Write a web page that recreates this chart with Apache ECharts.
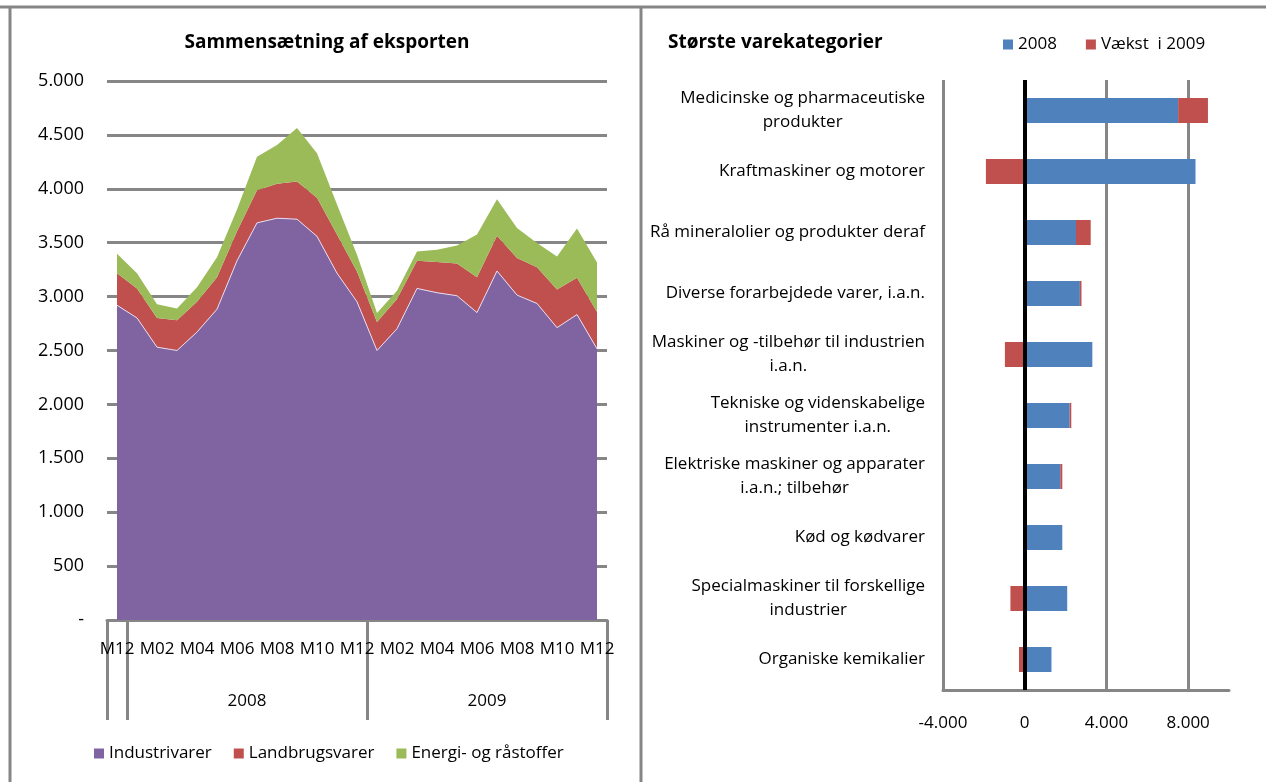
<!DOCTYPE html>
<html>
<head>
<meta charset="utf-8">
<script src="https://cdn.jsdelivr.net/npm/echarts@6/dist/echarts.min.js"></script>
<style>
html,body{margin:0;padding:0;background:#fff;}
#c{width:1266px;height:782px;}
</style>
</head>
<body>
<div id="c"></div>
<script>
// ---- Left chart data ----
var months = ['M12','M01','M02','M03','M04','M05','M06','M07','M08','M09','M10','M11','M12',
              'M01','M02','M03','M04','M05','M06','M07','M08','M09','M10','M11','M12'];
var yearGroups = ['', '2008', '2009'];
var yearGroupSizes = [1, 12, 12];
var industrivarer = [2920,2802,2531,2500,2671,2883,3332,3684,3727,3718,3559,3217,2952,
                     2500,2702,3076,3036,3008,2852,3238,3014,2936,2712,2833,2516];
var landbrugsvarer = [296,274,271,280,281,296,274,302,321,349,358,358,280,
                      265,275,256,286,299,327,327,343,337,355,343,342];
var energi = [181,140,128,109,134,187,202,312,359,498,412,280,156,
              84,78,87,113,168,396,337,280,224,305,455,458];

// ---- Right chart data ----
var kategorier = [
  'Medicinske og pharmaceutiske\nprodukter',
  'Kraftmaskiner og motorer',
  'Rå mineralolier og produkter deraf',
  'Diverse forarbejdede varer, i.a.n.',
  'Maskiner og -tilbehør til industrien\ni.a.n.',
  'Tekniske og videnskabelige\ninstrumenter i.a.n.',
  'Elektriske maskiner og apparater\ni.a.n.; tilbehør',
  'Kød og kødvarer',
  'Specialmaskiner til forskellige\nindustrier',
  'Organiske kemikalier'
];
var v2008 = [7510, 8360, 2510, 2700, 3310, 2200, 1740, 1840, 2080, 1310];
var vaekst2009 = [1460, -1900, 720, 80, -970, 80, 100, 0, -700, -280];

// ---- helpers ----
function fmt(v){
  if (v === 0) return '0';
  var s = Math.abs(v).toString().replace(/\B(?=(\d{3})+(?!\d))/g, '.');
  return (v < 0 ? '-' : '') + s;
}
var bounds = [0], centers = [];
(function(){
  var acc = 0;
  for (var i = 0; i < yearGroupSizes.length; i++) {
    var start = acc; acc += yearGroupSizes[i];
    bounds.push(acc);
    if (yearGroups[i]) centers.push({pos: (start + acc) / 2, label: yearGroups[i]});
  }
})();
var centerPos = centers.map(function(c){return c.pos;});

var FONT = '"Open Sans"';
var GRAY = '#868686';

var chart = echarts.init(document.getElementById('c'), null, {renderer:'canvas'});
var option = {
  animation: false,
  textStyle: {fontFamily: FONT, color: '#000'},
  graphic: [
    {type:'line', shape:{x1:0,y1:7,x2:1266,y2:7}, style:{stroke:GRAY,lineWidth:3}},
    {type:'line', shape:{x1:10,y1:7,x2:10,y2:782}, style:{stroke:GRAY,lineWidth:3}},
    {type:'line', shape:{x1:641,y1:7,x2:641,y2:782}, style:{stroke:GRAY,lineWidth:3}}
  ],
  title: [
    {text:'Sammensætning af eksporten', left:322, top:28, textAlign:'center',
     textStyle:{fontFamily:FONT, fontSize:19, fontWeight:'bold', color:'#000'}},
    {text:'Største varekategorier', left:663, top:28,
     textStyle:{fontFamily:FONT, fontSize:19, fontWeight:'bold', color:'#000'}}
  ],
  legend: [
    {data:['Industrivarer','Landbrugsvarer','Energi- og råstoffer'],
     left:89, top:740, icon:'rect', itemWidth:10, itemHeight:10, itemGap:22,
     textStyle:{fontFamily:FONT, fontSize:17, color:'#000'}},
    {data:['2008','Vækst  i 2009'],
     left:998, top:31, icon:'rect', itemWidth:10, itemHeight:10, itemGap:29,
     textStyle:{fontFamily:FONT, fontSize:17, color:'#000'}}
  ],
  grid: [
    {left:107, right:659, top:81, bottom:162, containLabel:false},
    {left:943, right:37, top:80, bottom:92, containLabel:false}
  ],
  xAxis: [
    {type:'category', gridIndex:0, data:months, boundaryGap:true,
     axisLine:{show:true, lineStyle:{color:GRAY, width:3}},
     axisTick:{show:false},
     axisLabel:{interval:1, fontSize:17, color:'#000', margin:21, fontFamily:FONT},
     splitLine:{show:false}},
    {type:'value', gridIndex:0, min:0, max:months.length, position:'bottom',
     axisLine:{show:false},
     axisTick:{show:true, customValues:bounds, length:100, lineStyle:{color:GRAY, width:3}},
     axisLabel:{show:true, customValues:centerPos, margin:73, fontSize:17, color:'#000', fontFamily:FONT,
       formatter:function(v){ for (var i=0;i<centers.length;i++){ if (centers[i].pos===v) return centers[i].label; } return ''; }},
     splitLine:{show:false}},
    {type:'value', gridIndex:1, min:-4000, max:10000, interval:4000,
     axisLine:{show:true, lineStyle:{color:GRAY, width:3}},
     axisTick:{show:false},
     axisLabel:{fontSize:17, color:'#000', margin:25, showMaxLabel:false, fontFamily:FONT, formatter:fmt},
     splitLine:{show:true, showMaxLine:false, lineStyle:{color:GRAY, width:3}}}
  ],
  yAxis: [
    {type:'value', gridIndex:0, min:0, max:5000, interval:500,
     axisLine:{show:false}, axisTick:{show:false},
     axisLabel:{fontSize:18, color:'#000', margin:23, fontFamily:FONT,
       formatter:function(v){ return v === 0 ? '-' : fmt(v); }},
     splitLine:{show:true, lineStyle:{color:GRAY, width:3}}},
    {type:'category', gridIndex:1, data:kategorier, inverse:true,
     axisLine:{show:false}, axisTick:{show:false},
     axisLabel:{fontSize:17, color:'#000', margin:18, fontFamily:FONT, lineHeight:24,
       formatter:function(v){ return v.split('\n').map(function(l){return '{c|' + l + '}';}).join('\n'); },
       rich:{c:{align:'center', fontSize:17, lineHeight:24, fontFamily:FONT, color:'#000'}}}}
  ],
  series: [
    {name:'Industrivarer', type:'line', xAxisIndex:0, yAxisIndex:0, stack:'eksport',
     data:industrivarer, symbol:'none', smooth:false,
     lineStyle:{color:'#e8d9ef', width:1}, itemStyle:{color:'#8064A2'},
     areaStyle:{color:'#8064A2', opacity:1}, z:3},
    {name:'Landbrugsvarer', type:'line', xAxisIndex:0, yAxisIndex:0, stack:'eksport',
     data:landbrugsvarer, symbol:'none',
     lineStyle:{width:0, color:'#C0504D'}, itemStyle:{color:'#C0504D'},
     areaStyle:{color:'#C0504D', opacity:1}, z:2},
    {name:'Energi- og råstoffer', type:'line', xAxisIndex:0, yAxisIndex:0, stack:'eksport',
     data:energi, symbol:'none',
     lineStyle:{width:0, color:'#9BBB59'}, itemStyle:{color:'#9BBB59'},
     areaStyle:{color:'#9BBB59', opacity:1}, z:2},
    {name:'2008', type:'bar', xAxisIndex:2, yAxisIndex:1, stack:'kat',
     data:v2008, barWidth:25, itemStyle:{color:'#4F81BD'},
     markLine:{silent:true, symbol:['none','none'], label:{show:false},
       lineStyle:{color:'#000', width:4, type:'solid'}, data:[{xAxis:0}]}},
    {name:'Vækst  i 2009', type:'bar', xAxisIndex:2, yAxisIndex:1, stack:'kat',
     data:vaekst2009, barWidth:25, itemStyle:{color:'#C0504D'}}
  ]
};
chart.setOption(option);
</script>
</body>
</html>
